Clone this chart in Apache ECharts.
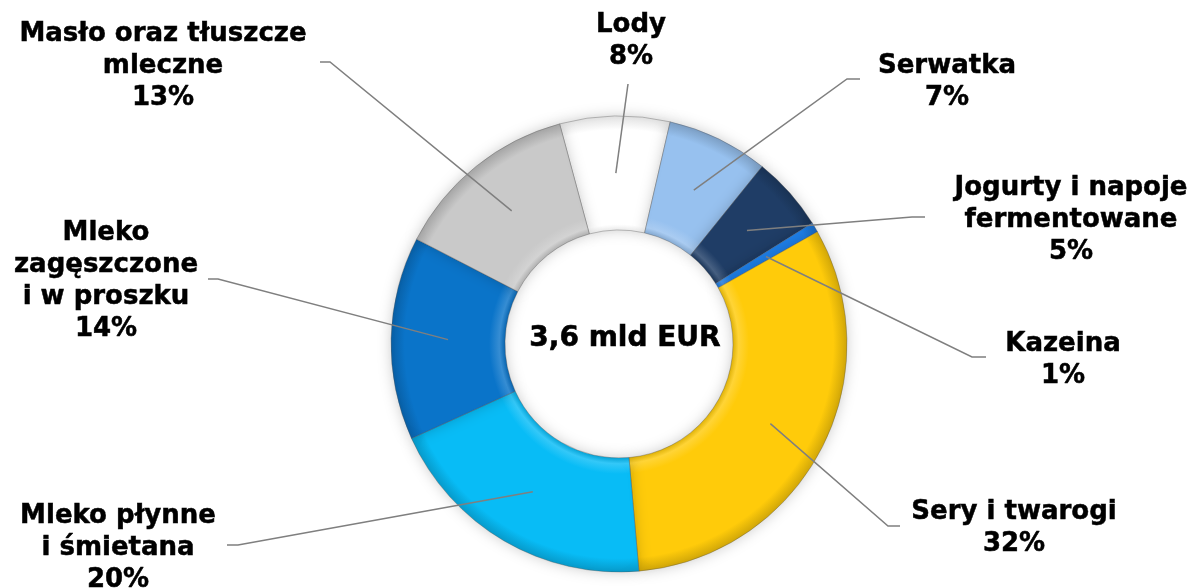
<!DOCTYPE html>
<html>
<head>
<meta charset="utf-8">
<script src="https://cdn.jsdelivr.net/npm/echarts@6/dist/echarts.min.js"></script>
<style>html,body{margin:0;padding:0;background:#fff}#chart{width:1200px;height:588px}</style>
</head>
<body>
<div id="chart"></div>
<script>
// ---- data ----
const categories = ['Lody', 'Serwatka', 'Jogurty i napoje\nfermentowane', 'Kazeina', 'Sery i twarogi', 'Mleko płynne\ni śmietana', 'Mleko\nzagęszczone\ni w proszku', 'Masło oraz tłuszcze\nmleczne'];
const shares = [7.8, 7.2, 5.3, 0.7, 31.8, 19.6, 14.4, 13.2];
const totalLabel = '3,6 mld EUR';

// ---- styling / layout ----
const colors = ['#FFFFFF', '#97C1EF', '#1F3D66', '#1E7FE8', '#FFCB0A', '#08BCF6', '#0A74C9', '#C9C9C9'];
const CX = 619, CY = 344, R0 = 114, R1 = 228;
const labelPos = [[631, 41], [947, 82], [1071, 220], [1063, 360], [1014, 528], [118, 548], [106, 281], [163, 66]];
const elbows = [[628, 84], [847, 79], [912, 217], [972, 357], [888, 526], [238, 545], [218, 279], [330, 62]];
const ends = [[628, 84], [860, 79], [925, 217], [986, 357], [900, 526], [227, 545], [208, 279], [320, 62]];

function shade(hex, f) {
  const n = parseInt(hex.slice(1), 16);
  let r = (n >> 16) & 255, g = (n >> 8) & 255, b = n & 255;
  const m = v => f < 0 ? Math.round(v * (1 + f)) : Math.round(v + (255 - v) * f);
  return 'rgb(' + m(r) + ',' + m(g) + ',' + m(b) + ')';
}
function bevel(hex) {
  const darkSide = hex === '#FFFFFF' ? -0.08 : -0.12;
  return new echarts.graphic.RadialGradient(CX, CY, R1, [
    { offset: R0 / R1, color: shade(hex, darkSide) },
    { offset: R0 / R1 + 0.025, color: shade(hex, 0.18) },
    { offset: R0 / R1 + 0.07, color: hex },
    { offset: 0.94, color: hex },
    { offset: 0.98, color: shade(hex, darkSide) },
    { offset: 1, color: shade(hex, darkSide * 1.5) }
  ], true);
}

const chart = echarts.init(document.getElementById('chart'), null, { renderer: 'canvas' });

function midPoint(seriesIndex, i) {
  try {
    const lay = chart.getModel().getSeriesByIndex(seriesIndex).getData().getItemLayout(i);
    const a = (lay.startAngle + lay.endAngle) / 2;
    const rm = (lay.r + lay.r0) / 2;
    return [lay.cx + rm * Math.cos(a), lay.cy + rm * Math.sin(a)];
  } catch (e) {
    return [CX, CY];
  }
}

const common = {
  type: 'pie',
  center: [CX, CY],
  radius: [R0, R1],
  startAngle: 105.1,
  clockwise: true,
  percentPrecision: 0,
  avoidLabelOverlap: false,
  emphasis: { disabled: true }
};

chart.setOption({
  backgroundColor: '#ffffff',
  animation: false,
  graphic: [{
    type: 'text', x: 625, y: 339, z: 100,
    style: { text: totalLabel, font: 'bold 28px "DejaVu Sans"', fill: '#000', stroke: '#000', lineWidth: 0.6, align: 'center', verticalAlign: 'middle' }
  }],
  series: [
    Object.assign({}, common, {
      z: 2,
      data: categories.map((c, i) => ({
        name: c, value: shares[i],
        itemStyle: { color: bevel(colors[i]) }
      })),
      itemStyle: {
        borderColor: 'rgba(80,80,80,0.35)', borderWidth: 1,
        shadowBlur: 14, shadowColor: 'rgba(0,0,0,0.2)'
      },
      label: { show: false },
      labelLine: { show: false }
    }),
    Object.assign({}, common, {
      z: 5,
      silent: true,
      data: categories.map((c, i) => ({ name: c, value: shares[i] })),
      itemStyle: { color: 'rgba(0,0,0,0)', borderWidth: 0 },
      label: {
        show: true,
        formatter: '{b}\n{d}%',
        fontFamily: 'DejaVu Sans',
        fontWeight: 'bold',
        fontSize: 26,
        lineHeight: 32,
        color: '#000',
        textBorderColor: '#000',
        textBorderWidth: 0.5,
        align: 'center'
      },
      labelLine: {
        show: true, showAbove: true, length: 10, length2: 10,
        lineStyle: { color: '#7F7F7F', width: 1.5 }
      },
      labelLayout: function (params) {
        const i = params.dataIndex;
        return {
          x: labelPos[i][0], y: labelPos[i][1],
          align: 'center', verticalAlign: 'middle',
          labelLinePoints: [midPoint(1, i), elbows[i], ends[i]]
        };
      }
    })
  ]
});
</script>
</body>
</html>
